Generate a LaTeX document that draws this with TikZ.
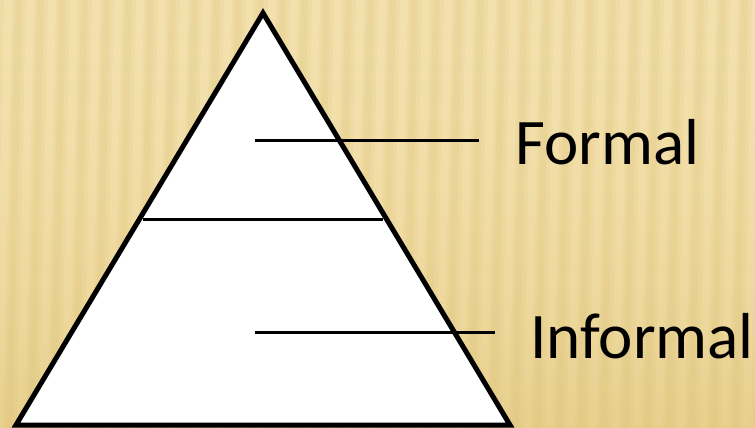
\documentclass[tikz,border=0pt]{standalone}
\usepackage{fontspec}
\setmainfont{Carlito}
\usetikzlibrary{fadings}
\definecolor{bgA}{HTML}{FCF0C8}
\definecolor{bgB}{HTML}{E9D08E}
\definecolor{stripe}{HTML}{D9BD6E}
\tikzset{
  tri/.style={draw=black, line width=5pt, fill=white, line join=miter},
  levelline/.style={draw=black, line width=3pt},
  label/.style={font=\fontsize{65}{65}\selectfont, anchor=base west, inner sep=0pt}
}
\begin{document}
\begin{tikzpicture}[x=1pt,y=-1pt]
\useasboundingbox (0,0) rectangle (755,428);
% background
\shade[left color=bgA, right color=bgB, shading angle=0] (0,0) rectangle (755,428);
\fill[bgB, opacity=0.45, path fading=south] (0,0) rectangle (755,428);
\begin{scope}
\clip (0,0) rectangle (755,428);
\foreach \i in {0,...,36}{
  \pgfmathsetmacro{\xx}{\i*22-10}
  \fill[stripe, opacity=0.12] (\xx,0) -- (\xx+14,0) -- (\xx+5,428) -- (\xx-9,428) -- cycle;
  \fill[stripe, opacity=0.15] (\xx+3,0) -- (\xx+10,0) -- (\xx+1,428) -- (\xx-6,428) -- cycle;
}
\end{scope}
% pyramid
\coordinate (apex) at (263,13);
\coordinate (bl) at (16,425);
\coordinate (br) at (510,425);
\path[tri] (apex) -- (br) -- (bl) -- cycle;
\coordinate (ml) at (143,219.5);
\coordinate (mr) at (383,219.5);
\draw[levelline] (ml) -- (mr);
% labels and pointers
\coordinate (fa) at (255,140.5);
\coordinate (fb) at (479,140.5);
\coordinate (ia) at (255,332);
\coordinate (ib) at (495,332);
\draw[levelline] (fa) -- (fb);
\draw[levelline] (ia) -- (ib);
\node[label] (formal) at (515,164) {Formal};
\node[label] (informal) at (530,358) {Informal};
\end{tikzpicture}
\end{document}
